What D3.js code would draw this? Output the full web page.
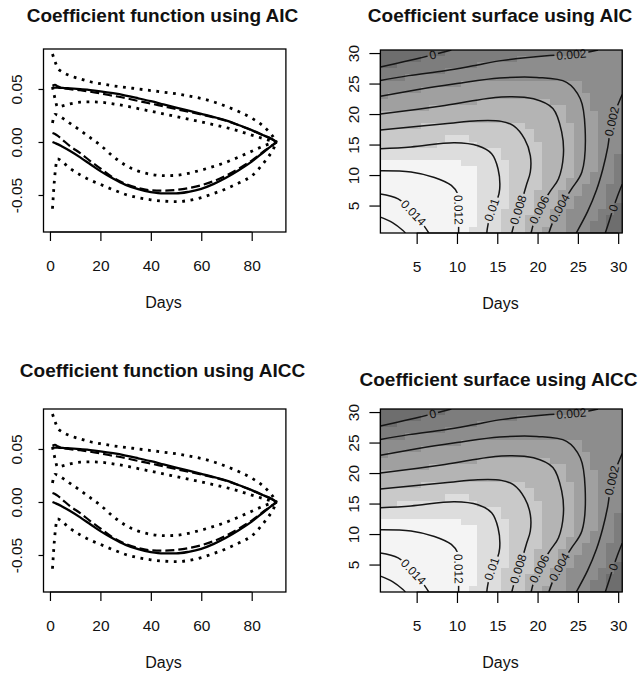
<!DOCTYPE html>
<html>
<head>
<meta charset="utf-8">
<script src="https://cdn.jsdelivr.net/npm/d3@7"></script>
<style>
  body { margin: 0; background: #fff; }
  text { font-family: "Liberation Sans", Arial, Helvetica, sans-serif; }
</style>
</head>
<body>
<svg id="chart" width="638" height="674"></svg>
<script>
// ---- coefficient function data ----
const fnDays = [1, 2, 3, 5, 8, 12, 16, 20, 25, 30, 35, 40, 45, 50, 55, 60, 65, 70, 75, 80, 85, 88, 90];
const upperEstimate = [0.0515, 0.0513, 0.0512, 0.0510, 0.0505, 0.0498, 0.0490, 0.0478, 0.0460, 0.0438, 0.0412, 0.0385, 0.0355, 0.0325, 0.0295, 0.0265, 0.0235, 0.0202, 0.0158, 0.0112, 0.0060, 0.0028, 0.0];
const upperDashed = [0.0530, 0.0540, 0.0525, 0.0510, 0.0498, 0.0488, 0.0474, 0.0458, 0.0436, 0.0414, 0.0387, 0.0362, 0.0336, 0.0310, 0.0285, 0.0259, 0.0231, 0.0199, 0.0158, 0.0110, 0.0058, 0.0026, 0.0];
const upperBandHigh = [0.083, 0.076, 0.070, 0.066, 0.0625, 0.0595, 0.0568, 0.0550, 0.0530, 0.0515, 0.0500, 0.0485, 0.0470, 0.0455, 0.0435, 0.0410, 0.0378, 0.0335, 0.0285, 0.0225, 0.0140, 0.0065, 0.0];
const upperBandLow = [0.0520, 0.0410, 0.0330, 0.0340, 0.0360, 0.0375, 0.0378, 0.0375, 0.0360, 0.0340, 0.0315, 0.0290, 0.0265, 0.0240, 0.0215, 0.0190, 0.0163, 0.0135, 0.0102, 0.0065, 0.0030, 0.0010, 0.0];
const lowerEstimate = [0.0, -0.001, -0.002, -0.0045, -0.0085, -0.0145, -0.021, -0.0275, -0.0345, -0.0405, -0.0445, -0.0472, -0.0485, -0.0485, -0.0470, -0.0442, -0.0395, -0.0335, -0.0265, -0.0185, -0.0090, -0.0035, 0.0];
const lowerDashed = [0.0085, 0.0075, 0.0060, 0.0020, -0.0040, -0.0105, -0.0180, -0.0250, -0.0335, -0.0395, -0.0435, -0.0455, -0.0458, -0.0452, -0.0435, -0.0408, -0.0368, -0.0315, -0.0250, -0.0175, -0.0085, -0.0033, 0.0];
const lowerBandHigh = [0.018, 0.026, 0.0255, 0.0225, 0.0175, 0.011, 0.004, -0.003, -0.0135, -0.022, -0.0275, -0.0305, -0.0318, -0.0315, -0.0295, -0.0265, -0.0230, -0.0190, -0.0140, -0.0088, -0.0035, -0.0010, 0.0];
const lowerBandLow = [-0.063, -0.030, -0.016, -0.019, -0.025, -0.031, -0.036, -0.040, -0.045, -0.0495, -0.0525, -0.0545, -0.0558, -0.0562, -0.0552, -0.0525, -0.0485, -0.0440, -0.0385, -0.0320, -0.0190, -0.0090, 0.0];

const fnXTicks = [0, 20, 40, 60, 80];
const fnYTicks = [-0.05, 0, 0.05];

// ---- coefficient surface data ----
// shade band of each cell, run-length coded [count, band, ...], rows from 30 down to 1
const surfaceRowsAIC = [
  [8, 2, 17, 3, 5, 4],
  [5, 2, 12, 3, 13, 4],
  [2, 2, 10, 3, 18, 4],
  [8, 3, 22, 4],
  [3, 3, 27, 4],
  [10, 4, 15, 5, 5, 4],
  [5, 4, 20, 5, 5, 4],
  [1, 4, 25, 5, 4, 4],
  [12, 5, 9, 6, 5, 5, 4, 4],
  [6, 5, 17, 6, 3, 5, 4, 4],
  [23, 6, 4, 5, 3, 4],
  [23, 6, 4, 5, 3, 4],
  [5, 6, 13, 7, 6, 6, 3, 5, 3, 4],
  [19, 7, 5, 6, 3, 5, 3, 4],
  [8, 7, 3, 8, 8, 7, 5, 6, 3, 5, 3, 4],
  [7, 7, 5, 8, 8, 7, 4, 6, 3, 5, 3, 4],
  [15, 8, 5, 7, 4, 6, 3, 5, 3, 4],
  [15, 8, 5, 7, 4, 6, 3, 5, 2, 4, 1, 3],
  [10, 9, 6, 8, 4, 7, 4, 6, 3, 5, 2, 4, 1, 3],
  [12, 9, 4, 8, 4, 7, 4, 6, 3, 5, 2, 4, 1, 3],
  [12, 9, 4, 8, 4, 7, 4, 6, 2, 5, 3, 4, 1, 3],
  [12, 9, 4, 8, 4, 7, 3, 6, 3, 5, 3, 4, 1, 3],
  [12, 9, 4, 8, 4, 7, 3, 6, 2, 5, 3, 4, 2, 3],
  [12, 9, 4, 8, 3, 7, 3, 6, 3, 5, 3, 4, 2, 3],
  [12, 9, 4, 8, 3, 7, 3, 6, 2, 5, 4, 4, 2, 3],
  [12, 9, 4, 8, 3, 7, 3, 6, 2, 5, 4, 4, 1, 3, 1, 2],
  [12, 9, 3, 8, 4, 7, 2, 6, 2, 5, 4, 4, 2, 3, 1, 2],
  [12, 9, 3, 8, 3, 7, 3, 6, 2, 5, 4, 4, 1, 3, 2, 2],
  [12, 9, 3, 8, 3, 7, 3, 6, 2, 5, 3, 4, 2, 3, 2, 2],
  [11, 9, 4, 8, 3, 7, 2, 6, 3, 5, 3, 4, 2, 3, 2, 2]
];
// AICC surface differs only in row 15 (index 15 from the top)
const surfaceRowsAICCChanged = { 15: [2, 7, 10, 8, 8, 7, 4, 6, 3, 5, 3, 4] };

const shadeBands = [2, 3, 4, 5, 6, 7, 8, 9];
const shadeGreys = ['#6e6e6e', '#7d7d7d', '#8d8d8d', '#a0a0a0', '#b4b4b4', '#c9c9c9', '#dddddd', '#f4f4f4'];

// contour lines [day, day] points, label = index of labelled point
const surfaceContours = [
  { level: 0.016, label: null, pts: [[0.5, 3.1], [2.0, 2.2], [3.3, 0.9], [3.6, 0.5]] },
  { level: 0.014, label: 2, pts: [[0.5, 6.9], [2.7, 6.1], [4.6, 3.8], [6.0, 1.5], [6.5, 0.5]] },
  { level: 0.012, label: 5, pts: [[0.5, 10.7], [4.3, 10.5], [7.2, 9.6], [9.3, 8.3], [10.1, 6.9], [10.2, 4.3], [10.2, 0.5]] },
  { level: 0.01, label: 8, pts: [[0.5, 14.3], [4.3, 14.6], [9.7, 15.3], [12.6, 14.8], [14.3, 13.5], [15.1, 11.0], [15.3, 7.7], [15.0, 6.0], [14.3, 4.3], [13.8, 1.5], [13.7, 0.5]] },
  { level: 0.008, label: 10, pts: [[0.5, 17.4], [8.5, 18.4], [12.6, 18.9], [15.5, 18.8], [17.0, 18.1], [18.4, 15.9], [19.1, 13.2], [19.1, 10.5], [18.6, 8.3], [18.2, 6.5], [17.6, 4.3], [17.1, 2.0], [16.8, 0.5]] },
  { level: 0.006, label: 9, pts: [[0.5, 20.0], [8.5, 21.4], [15.5, 22.8], [19.5, 22.5], [21.9, 20.9], [23.0, 17.0], [23.2, 13.2], [22.6, 9.4], [21.5, 7.2], [20.2, 4.3], [19.5, 2.0], [19.2, 0.5]] },
  { level: 0.004, label: 10, pts: [[0.5, 22.9], [5, 24.0], [10, 25.0], [15.3, 25.9], [19.9, 26.0], [23.6, 25.2], [25.3, 22.5], [25.9, 17.6], [25.5, 10.5], [24.2, 7.7], [22.7, 4.6], [21.8, 2.0], [21.4, 0.5]] },
  { level: 0.002, label: 6, pts: [[0.5, 25.5], [4, 26.3], [8.5, 27.1], [12, 27.9], [15.7, 28.8], [21.5, 29.6], [24.2, 29.75], [26.5, 30.2], [27.5, 30.5]] },
  { level: 0.002, label: 5, pts: [[24.8, 0.5], [26.2, 4.0], [27.3, 7.5], [28.1, 11.0], [28.7, 14.5], [29.2, 18.8], [29.9, 21.3], [30.5, 23.2]] },
  { level: 0, label: 2, pts: [[0.5, 27.7], [3.5, 28.6], [7.0, 29.7], [8.5, 30.2], [9.3, 30.5]] },
  { level: 0, label: 2, pts: [[28.4, 0.5], [28.9, 2.5], [29.4, 4.6], [29.9, 6.5], [30.5, 8.5]] }
];

const surfXTicks = [5, 10, 15, 20, 25, 30];
const surfYTicks = [5, 10, 15, 20, 25, 30];

const surfaceRowsAICC = surfaceRowsAIC.map((r, i) => surfaceRowsAICCChanged[i] || r);

// ---- layout ----
const panels = [
  { kind: 'fn', title: 'Coefficient function using AIC', left: 43.5, right: 285.9, top: 49, bottom: 232, titleX: 162.5, titleY: 21.7, labelX: 163.5 },
  { kind: 'surf', title: 'Coefficient surface using AIC', left: 380.4, right: 622.2, top: 50, bottom: 233, titleX: 500, titleY: 21.7, labelX: 500.5, rows: surfaceRowsAIC },
  { kind: 'fn', title: 'Coefficient function using AICC', left: 43.5, right: 285.9, top: 409, bottom: 592, titleX: 162.5, titleY: 376.7, labelX: 163.5 },
  { kind: 'surf', title: 'Coefficient surface using AICC', left: 380.4, right: 622.2, top: 409, bottom: 592, titleX: 498.5, titleY: 385.5, labelX: 500.5, rows: surfaceRowsAICC }
];

const svg = d3.select('#chart');
const defs = svg.append('defs');

function styleAxis(ax) {
  ax.attr('font-family', null).attr('font-size', 15.5);
  ax.selectAll('line, path').attr('stroke', '#000').attr('stroke-width', 1.2);
  ax.selectAll('text').attr('fill', '#111');
}

function xAxis(g, p, x, ticks, tickLen, fmt) {
  const ax = g.append('g').attr('transform', `translate(0,${p.bottom})`)
    .call(d3.axisBottom(x).tickValues(ticks).tickSize(tickLen).tickSizeOuter(0).tickFormat(fmt));
  ax.select('.domain').attr('d', `M${x(ticks[0])},0H${x(ticks[ticks.length - 1])}`);
  styleAxis(ax);
  ax.selectAll('text').attr('y', 38.5).attr('dy', 0);
}

function yAxis(g, p, y, ticks, tickLen, fmt) {
  const ax = g.append('g').attr('transform', `translate(${p.left},0)`)
    .call(d3.axisLeft(y).tickValues(ticks).tickSize(tickLen).tickSizeOuter(0).tickFormat(fmt));
  ax.select('.domain').attr('d', `M0,${y(ticks[0])}V${y(ticks[ticks.length - 1])}`);
  styleAxis(ax);
  ax.selectAll('text')
    .attr('transform', 'rotate(-90)')
    .attr('x', 0).attr('y', -21.2).attr('dy', 0)
    .attr('text-anchor', 'middle');
}

function frame(g, p) {
  g.append('rect')
    .attr('x', p.left).attr('y', p.top)
    .attr('width', p.right - p.left).attr('height', p.bottom - p.top)
    .attr('fill', 'none').attr('stroke', '#000').attr('stroke-width', 1.3);
  g.append('text').attr('x', p.titleX).attr('y', p.titleY)
    .attr('text-anchor', 'middle').attr('font-weight', 'bold').attr('font-size', 19)
    .attr('fill', '#111').text(p.title);
  g.append('text').attr('x', p.labelX).attr('y', p.bottom + 76)
    .attr('text-anchor', 'middle').attr('font-size', 16).attr('fill', '#111').text('Days');
}

function drawFunctionPanel(g, p) {
  const x = d3.scaleLinear().domain([-2.56, 93.56]).range([p.left, p.right]);
  const y = d3.scaleLinear().domain([-0.0849, 0.0877]).range([p.bottom, p.top]);
  const line = d3.line().x((d, i) => x(fnDays[i])).y(d => y(d)).curve(d3.curveMonotoneX);

  const series = [
    { values: upperBandHigh, type: 'dot' },
    { values: upperBandLow, type: 'dot' },
    { values: lowerBandHigh, type: 'dot' },
    { values: lowerBandLow, type: 'dot' },
    { values: upperDashed, type: 'dash' },
    { values: lowerDashed, type: 'dash' },
    { values: upperEstimate, type: 'solid' },
    { values: lowerEstimate, type: 'solid' }
  ];
  const widths = { dot: 2.8, dash: 2.2, solid: 2.3 };
  const dashes = { dot: '2.8,5.6', dash: '9,4', solid: null };

  g.append('g').selectAll('path').data(series).join('path')
    .attr('d', d => line(d.values))
    .attr('fill', 'none')
    .attr('stroke', '#000')
    .attr('stroke-width', d => widths[d.type])
    .attr('stroke-dasharray', d => dashes[d.type]);

  xAxis(g, p, x, fnXTicks, 9, d3.format('d'));
  yAxis(g, p, y, fnYTicks, 5, d => d.toFixed(2));
  frame(g, p);
}

function drawSurfacePanel(g, p, idx) {
  const x = d3.scaleLinear().domain([0.5, 30.5]).range([p.left, p.right]);
  const y = d3.scaleLinear().domain([0.5, 30.5]).range([p.bottom, p.top]);
  const shade = d3.scaleOrdinal(shadeBands, shadeGreys);

  // expand the run-length rows into cells
  const cells = [];
  p.rows.forEach((r, k) => {
    const t = 30 - k;
    let s = 1;
    for (let m = 0; m < r.length; m += 2) {
      for (let c = 0; c < r[m]; c++) cells.push({ s: s++, t, band: r[m + 1] });
    }
  });

  g.append('g').attr('shape-rendering', 'crispEdges')
    .selectAll('rect').data(cells).join('rect')
    .attr('x', d => x(d.s - 0.5))
    .attr('y', d => y(d.t + 0.5))
    .attr('width', d => x(d.s + 0.5) - x(d.s - 0.5) + 0.4)
    .attr('height', d => y(d.t - 0.5) - y(d.t + 0.5) + 0.4)
    .attr('fill', d => shade(d.band));

  const clipId = 'clip' + idx;
  defs.append('clipPath').attr('id', clipId).append('rect')
    .attr('x', p.left).attr('y', p.top)
    .attr('width', p.right - p.left).attr('height', p.bottom - p.top);

  const maskId = 'gap' + idx;
  const mask = defs.append('mask').attr('id', maskId)
    .attr('maskUnits', 'userSpaceOnUse')
    .attr('x', 0).attr('y', 0).attr('width', 638).attr('height', 674);
  mask.append('rect').attr('width', 638).attr('height', 674).attr('fill', '#fff');

  const contourG = g.append('g').attr('clip-path', `url(#${clipId})`)
    .append('g').attr('mask', `url(#${maskId})`);
  const labelG = g.append('g');

  const line = d3.line().x(d => x(d[0])).y(d => y(d[1])).curve(d3.curveCatmullRom.alpha(0.5));

  surfaceContours.forEach(c => {
    contourG.append('path').attr('d', line(c.pts))
      .attr('fill', 'none').attr('stroke', '#151515').attr('stroke-width', 1.5);
    if (c.label === null) return;
    const a = c.pts[c.label - 1], b = c.pts[c.label + 1], m = c.pts[c.label];
    let ang = Math.atan2(y(b[1]) - y(a[1]), x(b[0]) - x(a[0])) * 180 / Math.PI;
    if (ang > 90) ang -= 180;
    if (ang <= -90) ang += 180;
    const tr = `translate(${x(m[0])},${y(m[1])}) rotate(${ang})`;
    const txt = labelG.append('text')
      .attr('transform', tr)
      .attr('text-anchor', 'middle')
      .attr('dy', '0.35em')
      .attr('font-size', 12)
      .attr('fill', '#111')
      .text(String(c.level));
    const w = txt.node().getComputedTextLength() + 4;
    mask.append('rect').attr('transform', tr)
      .attr('x', -w / 2).attr('y', -6).attr('width', w).attr('height', 12)
      .attr('fill', '#000');
  });

  xAxis(g, p, x, surfXTicks, 11, d3.format('d'));
  yAxis(g, p, y, surfYTicks, 11, d3.format('d'));
  frame(g, p);
}

panels.forEach((p, i) => {
  const g = svg.append('g');
  if (p.kind === 'fn') drawFunctionPanel(g, p);
  else drawSurfacePanel(g, p, i);
});
</script>
</body>
</html>
